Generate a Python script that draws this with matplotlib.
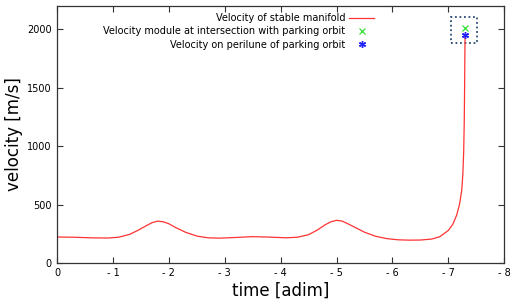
import numpy as np
import matplotlib
matplotlib.use('Agg')
import matplotlib.pyplot as plt
from matplotlib.patches import Rectangle

# velocity of the stable manifold
t = [0, 0.3, 0.6, 0.9, 1.1, 1.3, 1.45, 1.6, 1.7, 1.8, 1.9, 2.0, 2.1, 2.3, 2.5,
     2.7, 2.9, 3.2, 3.5, 3.8, 4.1, 4.3, 4.5, 4.65, 4.8, 4.9, 5.0, 5.1, 5.2,
     5.35, 5.5, 5.7, 5.9, 6.1, 6.3, 6.5, 6.7, 6.85, 7.0, 7.08, 7.15, 7.2,
     7.24, 7.26, 7.275, 7.285, 7.29, 7.295, 7.3]
v = [222, 220, 215, 213, 220, 245, 280, 320, 345, 358, 352, 335, 308, 262, 230,
     215, 212, 218, 225, 221, 215, 220, 242, 280, 328, 352, 365, 358, 336,
     300, 263, 228, 208, 198, 195, 196, 204, 225, 278, 330, 410, 500,
     620, 760, 950, 1200, 1420, 1700, 1955]

t_int, v_int = 7.29, 2009      # intersection with parking orbit
t_per, v_per = 7.29, 1951      # perilune of parking orbit

xticks = list(range(0, 9))
xlabels = ['0'] + ['- %d' % i for i in range(1, 9)]
yticks = [0, 500, 1000, 1500, 2000]

fig = plt.figure(figsize=(5.15, 3.05), dpi=100)
ax = fig.add_axes([0.111, 0.138, 0.868, 0.842])

ax.plot(t, v, color='#ff3333', lw=0.9, label='Velocity of stable manifold')
ax.plot(t_int, v_int, 'x', color='#33dd33', ms=4, mew=0.9, linestyle='none',
        label='Velocity module at intersection with parking orbit')
ax.plot(t_per, v_per, marker=(6, 2, 0), color='#2222ff', ms=5, mew=1.0,
        linestyle='none', label='Velocity on perilune of parking orbit')

ax.add_patch(Rectangle((7.05, 1880), 0.46, 230, fill=False, ls=(0, (1, 1.5)),
                       lw=1.3, ec='#2b4a7a'))

ax.set_xlim(0, 8)
ax.set_ylim(0, 2200)
ax.set_xticks(xticks)
ax.set_xticklabels(xlabels)
ax.set_yticks(yticks)
ax.tick_params(direction='in', top=True, right=True, length=4, width=0.8,
               labelsize=7, color='#333333', pad=4)
for s in ax.spines.values():
    s.set_color('#333333')
    s.set_linewidth(0.9)

ax.set_xlabel('time [adim]', fontsize=12, labelpad=2)
ax.set_ylabel('velocity [m/s]', fontsize=12, labelpad=3)

ax.legend(loc='upper right', bbox_to_anchor=(0.725, 1.0), frameon=False,
          markerfirst=False, fontsize=7, handlelength=2.6, labelspacing=0.35,
          borderaxespad=0.3, handletextpad=0.4)

fig.savefig('out.png', dpi=100)
